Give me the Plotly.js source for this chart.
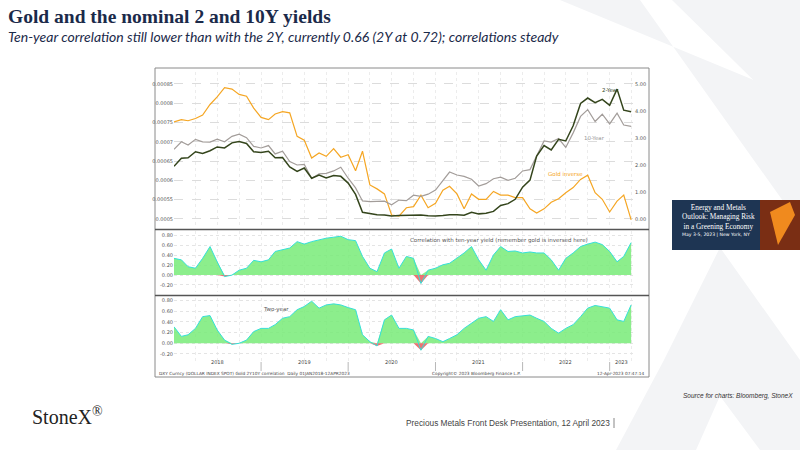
<!DOCTYPE html>
<html>
<head>
<meta charset="utf-8">
<script src="https://cdn.plot.ly/plotly-3.0.1.min.js"></script>
<style>
  html, body { margin: 0; padding: 0; background: #fff; }
  #chart { width: 800px; height: 450px; }
</style>
</head>
<body>
<div id="chart"></div>
<script>
// Monatswerte Jan 2018 .. Apr 2023
const months = [];
for (let y = 2018; y <= 2023; y++) {
    for (let m = 1; m <= 12; m++) {
        if (y === 2023 && m > 4) break;
        months.push(y + '-' + String(m).padStart(2, '0') + '-01');
    }
}

const goldPrice = [
    1330, 1320, 1325, 1315, 1300, 1255, 1225, 1190, 1195, 1215, 1222, 1270,
    1310, 1320, 1295, 1285, 1290, 1400, 1420, 1520, 1490, 1510, 1465, 1515,
    1500, 1600, 1480, 1700, 1730, 1770, 1960, 1970, 1890, 1880, 1780, 1890,
    1850, 1740, 1710, 1770, 1900, 1770, 1815, 1815, 1750, 1780, 1780, 1800,
    1800, 1900, 1940, 1900, 1840, 1810, 1760, 1720, 1660, 1630, 1760, 1815,
    1930, 1830, 1780, 2010
];
const twoYear = [
    1.95, 2.25, 2.27, 2.49, 2.43, 2.53, 2.67, 2.63, 2.82, 2.87, 2.80, 2.49,
    2.46, 2.51, 2.27, 2.28, 1.93, 1.76, 1.89, 1.51, 1.63, 1.52, 1.61, 1.58,
    1.33, 0.91, 0.25, 0.20, 0.16, 0.15, 0.11, 0.13, 0.13, 0.15, 0.15, 0.12,
    0.11, 0.13, 0.16, 0.16, 0.14, 0.25, 0.19, 0.21, 0.28, 0.50, 0.57, 0.73,
    1.18, 1.44, 2.33, 2.72, 2.56, 2.95, 2.89, 3.45, 4.28, 4.48, 4.31, 4.43,
    4.21, 4.81, 4.03, 3.97
];
const tenYear = [
    2.58, 2.86, 2.74, 2.95, 2.86, 2.85, 2.96, 2.86, 3.06, 3.14, 3.01, 2.69,
    2.63, 2.72, 2.41, 2.51, 2.13, 2.00, 2.02, 1.50, 1.67, 1.69, 1.78, 1.92,
    1.51, 1.15, 0.67, 0.64, 0.65, 0.66, 0.53, 0.70, 0.68, 0.88, 0.84, 0.92,
    1.07, 1.41, 1.74, 1.63, 1.58, 1.47, 1.22, 1.31, 1.49, 1.55, 1.43, 1.51,
    1.78, 1.83, 2.34, 2.89, 2.85, 2.98, 2.65, 3.19, 3.80, 4.05, 3.61, 3.88,
    3.52, 3.92, 3.48, 3.43
];
const corrTen = [
    0.34, 0.31, 0.17, 0.14, 0.34, 0.58, 0.27, -0.03, 0.00, 0.10, 0.14, 0.30,
    0.27, 0.31, 0.48, 0.51, 0.55, 0.68, 0.63, 0.68, 0.72, 0.75, 0.77, 0.79,
    0.72, 0.70, 0.38, 0.14, 0.07, 0.45, 0.53, 0.14, 0.38, 0.34, -0.17, 0.10,
    0.14, 0.21, 0.24, 0.34, 0.45, 0.58, 0.31, 0.10, 0.41, 0.58, 0.48, 0.49,
    0.45, 0.47, 0.45, 0.45, 0.31, 0.10, 0.34, 0.45, 0.58, 0.63, 0.67, 0.62,
    0.48, 0.27, 0.38, 0.66
];
const corrTwo = [
    0.31, 0.13, 0.16, 0.28, 0.50, 0.52, 0.25, 0.06, -0.02, 0.00, 0.06, 0.22,
    0.28, 0.28, 0.35, 0.47, 0.50, 0.63, 0.69, 0.79, 0.66, 0.72, 0.74, 0.72,
    0.67, 0.63, 0.16, 0.03, -0.05, 0.44, 0.53, 0.28, 0.28, 0.25, -0.13, 0.13,
    0.09, 0.03, 0.09, 0.16, 0.28, 0.38, 0.47, 0.50, 0.41, 0.63, 0.44, 0.50,
    0.52, 0.53, 0.47, 0.41, 0.28, 0.19, 0.28, 0.35, 0.50, 0.66, 0.71, 0.69,
    0.66, 0.44, 0.41, 0.72
];
const yearLabels = ['2018', '2019', '2020', '2021', '2022', '2023'];
const leftTicks = [0.0005, 0.00055, 0.0006, 0.00065, 0.0007, 0.00075, 0.0008, 0.00085];
const leftTickText = ['0.0005', '0.00055', '0.0006', '0.00065', '0.0007', '0.00075', '0.0008', '0.00085'];

const W = 800, H = 450;
const px = v => v / W;
const py = v => 1 - v / H;

const goldInverse = goldPrice.map(g => 1 / g);
const pos = a => a.map(v => Math.max(v, 0));
const neg = a => a.map(v => Math.min(v, 0));

function corrTraces(vals, ax) {
    return [
        { x: months, y: pos(vals), xaxis: 'x', yaxis: ax, mode: 'lines', line: {width: 0},
          fill: 'tozeroy', fillcolor: 'rgba(120,235,120,0.85)', hoverinfo: 'skip' },
        { x: months, y: neg(vals), xaxis: 'x', yaxis: ax, mode: 'lines', line: {width: 0},
          fill: 'tozeroy', fillcolor: 'rgba(235,100,100,0.9)', hoverinfo: 'skip' },
        { x: months, y: vals, xaxis: 'x', yaxis: ax, mode: 'lines',
          line: {color: '#35e0d8', width: 1}, hoverinfo: 'skip' }
    ];
}

const traces = [
    { x: months, y: goldInverse, xaxis: 'x', yaxis: 'y', mode: 'lines',
      line: {color: '#f5a623', width: 1.2} },
    { x: months, y: tenYear, xaxis: 'x', yaxis: 'y2', mode: 'lines',
      line: {color: '#a39d9a', width: 1.2} },
    { x: months, y: twoYear, xaxis: 'x', yaxis: 'y2', mode: 'lines',
      line: {color: '#34451c', width: 1.5} },
    ...corrTraces(corrTen, 'y3'),
    ...corrTraces(corrTwo, 'y4')
];

const tickFont = {family: 'DejaVu Sans', size: 5, color: '#555'};
const xr = ['2018-01-01', '2023-04-13'];
const corrAxis = (top, bot, rng) => ({
    domain: [py(bot), py(top)], range: rng, tickvals: [-0.2, 0, 0.2, 0.4, 0.6, 0.8],
    ticktext: ['-0.20', '0.00', '0.20', '0.40', '0.60', '0.80'], tickfont: tickFont,
    showgrid: true, gridcolor: '#e4e4e4', griddash: 'dot', zeroline: false, ticks: '', anchor: 'x'
});

const shapes = [];
// Hintergrund-X
shapes.push({type: 'path', xref: 'paper', yref: 'paper', layer: 'below',
    path: 'M 0.70 1 L 0.80 1 L 1 0.5 L 1 0.78 Z', fillcolor: '#f3f4f6', line: {width: 0}});
shapes.push({type: 'path', xref: 'paper', yref: 'paper', layer: 'below',
    path: 'M 0.84 1 L 1 1 L 1 0.72 Z', fillcolor: '#f3f4f6', line: {width: 0}});
shapes.push({type: 'path', xref: 'paper', yref: 'paper', layer: 'below',
    path: 'M 0.77 0 L 0.83 0.2 L 0.90 0.45 L 1 0.2 L 1 0 L 0.95 0 L 0.90 0.12 L 0.87 0 Z', fillcolor: '#f3f4f6', line: {width: 0}});
// Diagramm-Rahmen
shapes.push({type: 'rect', xref: 'paper', yref: 'paper', x0: px(155), x1: px(649), y0: py(377), y1: py(68),
    line: {color: '#8a8a8a', width: 1}, fillcolor: 'rgba(255,255,255,1)', layer: 'below'});
shapes.push({type: 'line', xref: 'paper', yref: 'paper', x0: px(155), x1: px(649), y0: py(229.5), y1: py(229.5),
    line: {color: '#555', width: 1.5}});
shapes.push({type: 'line', xref: 'paper', yref: 'paper', x0: px(155), x1: px(649), y0: py(295.5), y1: py(295.5),
    line: {color: '#555', width: 1.5}});
// Trennlinien der Jahre unter der x-Achse
for (let y = 2019; y <= 2023; y++) {
    shapes.push({type: 'line', xref: 'x', yref: 'paper', x0: y + '-01-01', x1: y + '-01-01',
        y0: py(362), y1: py(371), line: {color: '#999', width: 0.7}});
}
// Veranstaltungs-Banner
shapes.push({type: 'rect', xref: 'paper', yref: 'paper', x0: px(672), x1: px(800), y0: py(250), y1: py(200),
    fillcolor: '#1e3553', line: {width: 0}});
shapes.push({type: 'rect', xref: 'paper', yref: 'paper', x0: px(760), x1: px(800), y0: py(250), y1: py(200),
    fillcolor: '#7a2e14', line: {width: 0}});
shapes.push({type: 'path', xref: 'paper', yref: 'paper',
    path: `M ${px(770)} ${py(212)} L ${px(790)} ${py(202)} L ${px(795)} ${py(215)} L ${px(778)} ${py(245)} Z`,
    fillcolor: '#f08a1e', line: {width: 0}});
shapes.push({type: 'line', xref: 'paper', yref: 'paper', x0: px(614), x1: px(614), y0: py(418), y1: py(428),
    line: {color: '#555', width: 0.7}});

const ann = (x, y, text, font, anchor = 'left') => ({
    xref: 'paper', yref: 'paper', x: px(x), y: py(y), text, showarrow: false,
    xanchor: anchor, yanchor: 'middle', font
});
const small = c => ({family: 'DejaVu Sans', size: 5.5, color: c});

const annotations = [
    ann(6, 16, '<b>Gold and the nominal 2 and 10Y yields</b>', {family: 'Liberation Serif', size: 19.5, color: '#1b2a4a'}),
    ann(6, 37, '<i>Ten-year correlation still lower than with the 2Y, currently 0.66 (2Y at 0.72); correlations steady</i>',
        {family: 'Lato', size: 14, color: '#1b2a4a'}),
    ann(600, 90, '2-Year', small('#34451c')),
    ann(582, 138, '10-Year', small('#999')),
    ann(546, 174, 'Gold inverse', small('#f5a623')),
    ann(408, 240, 'Correlation with ten-year yield (remember gold is inversed here)', small('#555')),
    ann(261, 309, 'Two-year', small('#555')),
    ann(157, 373, 'DXY Curncy (DOLLAR INDEX SPOT) Gold 2Y10Y correlation  Daily 01JAN2018-12APR2023', {family: 'DejaVu Sans', size: 4.3, color: '#444'}),
    ann(430, 373, 'Copyright© 2023 Bloomberg Finance L.P.', {family: 'DejaVu Sans', size: 4.3, color: '#444'}),
    ann(646, 373, '12-Apr-2023 07:47:14', {family: 'DejaVu Sans', size: 4.3, color: '#444'}, 'right'),
    ann(680, 217, 'Energy and Metals<br>Outlook: Managing Risk<br>in a Greening Economy',
        {family: 'Liberation Serif', size: 7.3, color: '#fff'}),
    ann(680, 235, 'May 3-5, 2023 | New York, NY', {family: 'DejaVu Sans', size: 4.6, color: '#fff'}),
    ann(795, 396, '<i>Source for charts: Bloomberg, StoneX</i>', {family: 'Liberation Sans', size: 6.5, color: '#333'}, 'right'),
    ann(30, 416, 'StoneX<sup style="font-size:6px">®</sup>', {family: 'Liberation Serif', size: 20, color: '#222'}),
    ann(612, 423, 'Precious Metals Front Desk Presentation, 12 April 2023', {family: 'Liberation Sans', size: 8.3, color: '#444'}, 'right')
];
// Jahresbeschriftungen in der Mitte jedes Jahres
yearLabels.forEach((yr, i) => {
    const mid = i < 5 ? yr + '-07-01' : '2023-02-20';
    annotations.push({xref: 'x', yref: 'paper', x: mid, y: py(367), text: yr, showarrow: false,
        font: {family: 'DejaVu Sans', size: 5, color: '#444'}});
});

const layout = {
    width: W, height: H, margin: {l: 0, r: 0, t: 0, b: 0},
    paper_bgcolor: '#fff', plot_bgcolor: 'rgba(0,0,0,0)', showlegend: false,
    xaxis: {domain: [px(174), px(634)], range: xr, type: 'date', showticklabels: false,
        showgrid: true, gridcolor: '#ececec', griddash: 'dot', dtick: 'M3', tick0: '2018-01-01',
        zeroline: false, anchor: 'y4'},
    yaxis: {domain: [py(225), py(72)], range: [0.0004844, 0.000881], tickvals: leftTicks, ticktext: leftTickText,
        tickfont: tickFont, showgrid: true, gridcolor: '#dcdcdc', griddash: 'dash', zeroline: false, anchor: 'x'},
    yaxis2: {overlaying: 'y', side: 'right', range: [-0.222, 5.444], tickvals: [0, 1, 2, 3, 4, 5],
        ticktext: ['0.00', '1.00', '2.00', '3.00', '4.00', '5.00'], tickfont: tickFont,
        showgrid: false, zeroline: false, anchor: 'x'},
    yaxis3: corrAxis(231, 292, [-0.343, 0.896]),
    yaxis4: corrAxis(298, 361, [-0.332, 0.85]),
    shapes, annotations
};

Plotly.newPlot('chart', traces, layout, {staticPlot: true, displayModeBar: false});
</script>
</body>
</html>
